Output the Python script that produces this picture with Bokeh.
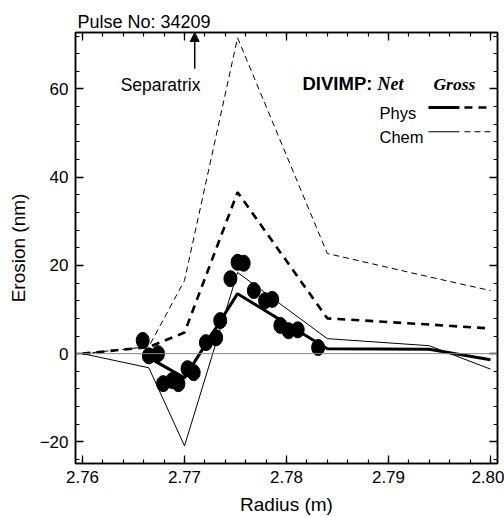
from bokeh.plotting import figure
from bokeh.models import (Range1d, LinearAxis, SingleIntervalTicker, Span, Label,
                          Arrow, NormalHead, NumeralTickFormatter, CustomLabelingPolicy)
from bokeh.embed import file_html
from bokeh.resources import INLINE

# ---- data ----
radius_model = [2.7600, 2.7665, 2.7700, 2.7752, 2.7840, 2.7940, 2.8000]
phys_net = [float("nan"), -0.9, -5.5, 13.6, 1.1, 1.0, -1.4]
phys_gross = [0.0, 1.5, 4.8, 36.6, 8.0, 6.6, 5.7]
chem_net = [0.0, -3.2, -20.9, 18.4, 3.4, 1.8, -3.5]
chem_gross = [0.0, 1.6, 16.6, 71.6, 22.7, 17.4, 14.3]

obs_radius = [2.7659, 2.7665, 2.7674, 2.7679, 2.7688, 2.7694, 2.7703, 2.7709,
              2.7721, 2.7731, 2.7735, 2.7745, 2.7752, 2.7758, 2.7768, 2.7779,
              2.7786, 2.7794, 2.7802, 2.7811, 2.7831]
obs_erosion = [3.0, -0.5, 0.0, -6.8, -6.1, -6.8, -3.4, -4.3,
               2.5, 3.6, 7.5, 17.0, 20.7, 20.5, 14.3, 12.0,
               12.3, 6.4, 5.2, 5.4, 1.4]

separatrix_r = 2.7710

FONT = "Liberation Sans"
SERIF = "Liberation Serif"

p = figure(width=504, height=517,
           x_range=Range1d(2.75931, 2.80069), y_range=Range1d(-24.9, 72.8),
           output_backend="svg", toolbar_location=None,
           min_border_left=75, min_border_right=7, min_border_top=32, min_border_bottom=54,
           x_axis_label="Radius (m)", y_axis_label="Erosion (nm)",
           title="Pulse No: 34209")

p.xgrid.grid_line_color = None
p.ygrid.grid_line_color = None
p.outline_line_color = "black"
p.outline_line_width = 1.5
p.background_fill_color = "white"
p.border_fill_color = "white"

p.title.text_font = FONT
p.title.text_font_size = "18px"
p.title.text_font_style = "normal"
p.title.text_color = "black"
p.title.align = "left"
p.title.offset = 2
p.title.standoff = 2

xticker = SingleIntervalTicker(interval=0.01, num_minor_ticks=5)
yticker = SingleIntervalTicker(interval=20, num_minor_ticks=5)

hide_labels = CustomLabelingPolicy(code="return new Set()")


def style(ax, labels=True):
    ax.major_tick_in = 8
    ax.major_tick_out = 0
    ax.minor_tick_in = 4
    ax.minor_tick_out = 0
    ax.axis_line_color = "black"
    ax.axis_line_width = 1.5
    ax.major_tick_line_color = "black"
    ax.major_tick_line_width = 1.3
    ax.minor_tick_line_color = "black"
    ax.minor_tick_line_width = 1.2
    ax.major_label_text_font = FONT
    ax.major_label_text_color = "black"
    ax.axis_label_text_font = FONT
    ax.axis_label_text_font_style = "normal"
    ax.axis_label_text_color = "black"
    if labels:
        ax.major_label_text_font_size = "17px"
        ax.axis_label_text_font_size = "19px"
        ax.major_label_standoff = 7
        ax.axis_label_standoff = 8
    else:
        ax.major_label_text_font_size = "0px"
        ax.major_label_standoff = 0
        ax.major_label_policy = hide_labels


p.xaxis.ticker = xticker
p.xaxis.formatter = NumeralTickFormatter(format="0.00")
p.yaxis.ticker = yticker
style(p.xaxis[0])
style(p.yaxis[0])

top = LinearAxis(ticker=xticker)
style(top, labels=False)
p.add_layout(top, "above")
right = LinearAxis(ticker=yticker)
style(right, labels=False)
p.add_layout(right, "right")

# zero reference line
p.add_layout(Span(location=0, dimension="width", line_color="#888888", line_width=1))

# model lines
p.line(radius_model, chem_gross, line_color="black", line_width=1, line_dash="6 4")
p.line(radius_model, chem_net, line_color="black", line_width=1)
p.line(radius_model, phys_gross, line_color="black", line_width=2.6, line_dash="8 6")
p.line(radius_model, phys_net, line_color="black", line_width=3)

# measurements
p.ellipse(x=obs_radius, y=obs_erosion, width=13, height=16,
          width_units="screen", height_units="screen",
          fill_color="black", line_color="black")

# separatrix
p.add_layout(Label(x=2.76765, y=61.0, text="Separatrix", text_align="center",
                   text_baseline="alphabetic", text_font=FONT, text_font_size="17.5px",
                   text_color="black"))
p.add_layout(Arrow(end=NormalHead(size=9, fill_color="black", line_color="black"),
                   x_start=separatrix_r, y_start=64.6, x_end=separatrix_r, y_end=72.8,
                   line_color="black", line_width=1.5))

# legend (custom two-column)
p.add_layout(Label(x=2.78157, y=61.2, text="DIVIMP:", text_font=FONT, text_font_size="18.5px",
                   text_font_style="bold", text_baseline="alphabetic", text_color="black"))
p.add_layout(Label(x=2.78892, y=61.2, text="Net", text_font=SERIF, text_font_size="18px",
                   text_font_style="bold italic", text_baseline="alphabetic", text_color="black"))
p.add_layout(Label(x=2.79441, y=61.2, text="Gross", text_font=SERIF, text_font_size="17.5px",
                   text_font_style="bold italic", text_baseline="alphabetic", text_color="black"))
p.add_layout(Label(x=2.78912, y=54.6, text="Phys", text_font=FONT, text_font_size="16.5px",
                   text_baseline="alphabetic", text_color="black"))
p.add_layout(Label(x=2.78912, y=49.2, text="Chem", text_font=FONT, text_font_size="16.5px",
                   text_baseline="alphabetic", text_color="black"))
p.add_layout(Arrow(end=None, x_start=2.79392, y_start=55.8, x_end=2.79696, y_end=55.8,
                   line_color="black", line_width=3))
p.add_layout(Arrow(end=None, x_start=2.79745, y_start=55.8, x_end=2.80010, y_end=55.8,
                   line_color="black", line_width=2.6, line_dash="8 6"))
p.add_layout(Arrow(end=None, x_start=2.79392, y_start=50.3, x_end=2.79696, y_end=50.3,
                   line_color="black", line_width=1))
p.add_layout(Arrow(end=None, x_start=2.79745, y_start=50.3, x_end=2.80010, y_end=50.3,
                   line_color="black", line_width=1, line_dash="6 4"))

open("out.html", "w").write(file_html(p, INLINE))
